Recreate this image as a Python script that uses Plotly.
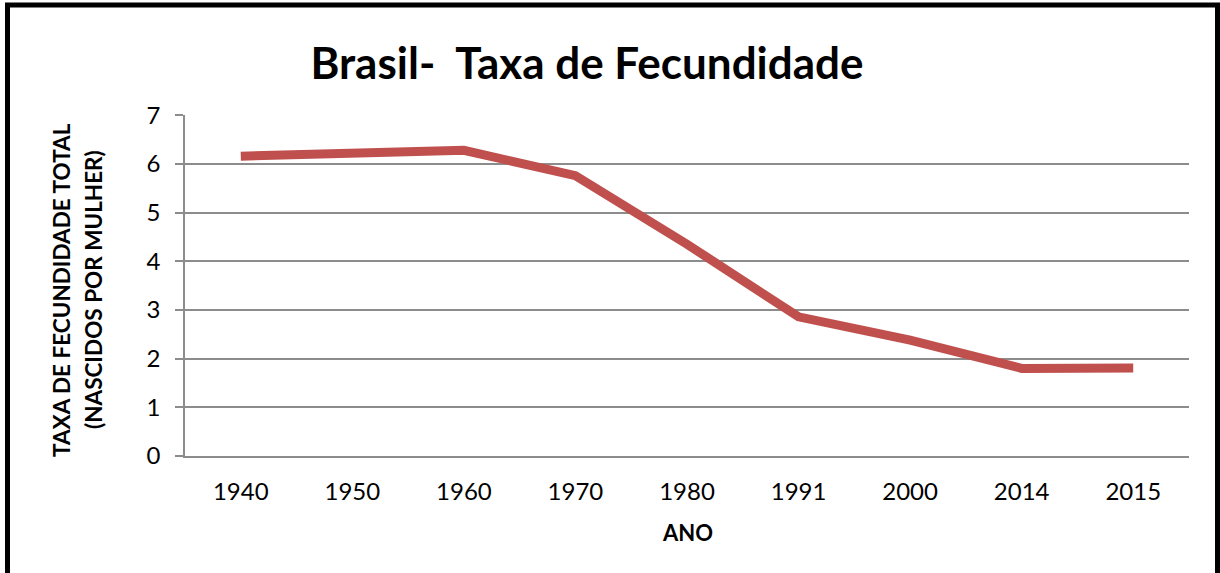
import plotly.graph_objects as go

years = ["1940", "1950", "1960", "1970", "1980", "1991", "2000", "2014", "2015"]
taxa = [6.16, 6.21, 6.28, 5.76, 4.35, 2.86, 2.38, 1.80, 1.81]
y_ticks = [0, 1, 2, 3, 4, 5, 6, 7]

# the page body margin is removed below, so figure pixels == screen pixels
W, H = 1220, 573
L = 185
T = 115
B = H - 456
R = W - 1189
pw = W - L - R
ph = H - T - B

def px_x(x):
    return (x - L) / pw

def px_y(y):
    return (H - B - y) / ph

fig = go.Figure()
fig.add_trace(go.Scatter(
    x=years, y=taxa, mode="lines",
    line=dict(color="#C0504D", width=9),
    hoverinfo="x+y", showlegend=False,
))

font_main = "Lato, 'Open Sans', sans-serif"
grey = "#8c8c8c"

fig.update_layout(
    width=W, height=H,
    margin=dict(l=L, r=R, t=T, b=B, autoexpand=False),
    paper_bgcolor="white", plot_bgcolor="white",
    font=dict(family=font_main, color="black"),
    title=dict(text="<b>Brasil-  Taxa de Fecundidade</b>",
               x=587 / W, xanchor="center", y=1 - 64 / H, yanchor="middle",
               font=dict(size=44, family=font_main, color="black")),
    xaxis=dict(type="category", range=[-0.5, 8.5], showgrid=False,
               showline=True, linecolor=grey, linewidth=1.5, ticks="",
               tickfont=dict(size=24), zeroline=False, automargin=False,
               ticklabelstandoff=13),
    yaxis=dict(range=[0, 7.005], tickvals=y_ticks, showgrid=True, gridcolor=grey,
               gridwidth=1.5, showline=True, linecolor=grey, linewidth=1.5,
               ticks="outside", ticklen=8, tickcolor=grey, tickwidth=1.5,
               tickfont=dict(size=24), zeroline=False, automargin=False,
               ticklabelstandoff=10),
)

fig.add_annotation(text="<b>TAXA DE FECUNDIDADE TOTAL</b>", xref="paper", yref="paper",
                   x=px_x(61), y=px_y(290), textangle=-90, showarrow=False,
                   xanchor="center", yanchor="middle", font=dict(size=22.5))
fig.add_annotation(text="<b>(NASCIDOS POR MULHER)</b>", xref="paper", yref="paper",
                   x=px_x(93), y=px_y(290), textangle=-90, showarrow=False,
                   xanchor="center", yanchor="middle", font=dict(size=22.5))
fig.add_annotation(text="<b>ANO</b>", xref="paper", yref="paper",
                   x=px_x(687), y=px_y(532), showarrow=False,
                   xanchor="center", yanchor="middle", font=dict(size=22))

fig.add_shape(type="rect", xref="paper", yref="paper",
              x0=px_x(7.5), x1=px_x(1217.5), y0=px_y(5), y1=px_y(640),
              line=dict(color="black", width=5), layer="above")

fig.write_html("out.html",
               config={"displayModeBar": False},
               post_script="document.body.style.margin='0';document.body.style.overflow='hidden';")
